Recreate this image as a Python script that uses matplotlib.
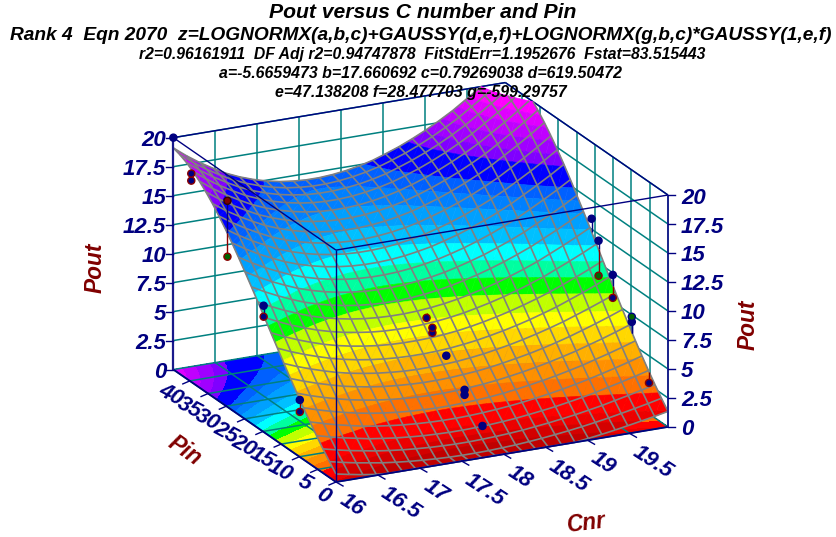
import matplotlib
matplotlib.use("Agg")
import matplotlib.pyplot as plt
import numpy as np
from matplotlib.lines import Line2D
from matplotlib.transforms import IdentityTransform
from mpl_toolkits.mplot3d import proj3d
from mpl_toolkits.mplot3d.art3d import Line3DCollection, Poly3DCollection

W, H = 837, 537

# fitted surface, rows = Pin, columns = Cnr
cnr_grid = [16.00, 16.16, 16.32, 16.48, 16.63, 16.79, 16.95, 17.11, 17.27, 17.43, 17.58, 17.74, 17.90,
            18.06, 18.22, 18.38, 18.53, 18.69, 18.85, 19.01, 19.17, 19.33, 19.48, 19.64, 19.80, 19.96]
pin_grid = [0, 1.78, 3.56, 5.34, 7.12, 8.9, 10.68, 12.46, 14.24, 16.02, 17.8, 19.58, 21.36,
            23.14, 24.92, 26.7, 28.48, 30.26, 32.04, 33.82, 35.6, 37.38, 39.16, 40.94, 42.72, 44.5]
pout_grid = [
    [.69,.46,.25,.08,0,0,0,0,0,0,0,0,0,0,0,0,0,0,0,.15,.31,.49,.68,.89,1.10,1.34],
    [1.37,1.11,.88,.69,.51,.37,.25,.16,.09,.04,.02,.02,.04,.09,.15,.24,.34,.47,.61,.77,.95,1.14,1.35,1.58,1.82,2.08],
    [2.08,1.80,1.55,1.34,1.15,.99,.86,.76,.68,.63,.60,.60,.63,.68,.75,.84,.96,1.09,1.25,1.42,1.62,1.83,2.07,2.32,2.59,2.87],
    [2.84,2.53,2.26,2.03,1.81,1.65,1.50,1.39,1.30,1.25,1.22,1.22,1.25,1.30,1.38,1.48,1.61,1.76,1.92,2.12,2.33,2.57,2.83,3.10,3.39,3.70],
    [3.63,3.30,3.00,2.74,2.51,2.32,2.17,2.04,1.95,1.89,1.86,1.86,1.89,1.95,2.04,2.15,2.28,2.45,2.63,2.84,3.08,3.34,3.61,3.91,4.23,4.57],
    [4.46,4.10,3.78,3.49,3.25,3.04,2.87,2.74,2.64,2.58,2.54,2.54,2.58,2.64,2.73,2.85,3.00,3.18,3.38,3.61,3.87,4.14,4.45,4.77,5.12,5.49],
    [5.33,4.93,4.58,4.27,4.01,3.79,3.60,3.46,3.35,3.28,3.24,3.24,3.28,3.35,3.45,3.58,3.74,3.93,4.15,4.40,4.68,4.98,5.31,5.66,6.04,6.44],
    [6.21,5.79,5.41,5.08,4.79,4.55,4.35,4.19,4.08,4.00,3.96,3.96,4.00,4.08,4.18,4.32,4.50,4.71,4.94,5.21,5.51,5.84,6.19,6.57,6.98,7.41],
    [7.12,6.66,6.26,5.90,5.59,5.33,5.12,4.95,4.83,4.74,4.70,4.71,4.75,4.82,4.94,5.09,5.28,5.50,5.76,6.05,6.37,6.72,7.10,7.51,7.95,8.41],
    [8.05,7.56,7.13,6.75,6.42,6.14,5.91,5.73,5.60,5.51,5.47,5.47,5.51,5.59,5.72,5.88,6.08,6.32,6.59,6.90,7.25,7.62,8.03,8.47,8.94,9.44],
    [8.99,8.47,8.00,7.59,7.24,6.94,6.70,6.51,6.36,6.27,6.23,6.23,6.27,6.36,6.49,6.67,6.88,7.14,7.43,7.76,8.13,8.53,8.96,9.43,9.93,10.46],
    [9.93,9.38,8.88,8.45,8.08,7.76,7.50,7.30,7.14,7.04,7.00,7.00,7.05,7.14,7.28,7.47,7.70,7.97,8.28,8.63,9.02,9.44,9.91,10.41,10.94,11.50],
    [10.87,10.28,9.76,9.30,8.90,8.57,8.29,8.07,7.91,7.81,7.76,7.76,7.81,7.91,8.06,8.26,8.50,8.78,9.11,9.49,9.90,10.35,10.84,11.37,11.93,12.53],
    [11.79,11.17,10.62,10.13,9.71,9.36,9.07,8.84,8.67,8.56,8.51,8.51,8.56,8.67,8.83,9.03,9.29,9.59,9.94,10.33,10.77,11.24,11.76,12.32,12.91,13.54],
    [12.70,12.05,11.47,10.96,10.52,10.15,9.84,9.60,9.42,9.30,9.25,9.25,9.30,9.42,9.58,9.80,10.07,10.39,10.75,11.17,11.62,12.12,12.67,13.25,13.88,14.54],
    [13.57,12.89,12.28,11.75,11.29,10.90,10.58,10.33,10.14,10.02,9.96,9.96,10.02,10.14,10.31,10.54,10.82,11.15,11.54,11.97,12.45,12.97,13.54,14.16,14.81,15.51],
    [14.42,13.71,13.07,12.52,12.04,11.63,11.30,11.03,10.84,10.71,10.65,10.65,10.71,10.83,11.02,11.25,11.55,11.89,12.29,12.74,13.24,13.79,14.39,15.03,15.71,16.44],
    [15.22,14.48,13.82,13.24,12.74,12.32,11.97,11.70,11.50,11.36,11.30,11.30,11.36,11.49,11.68,11.93,12.23,12.59,13.01,13.48,14.00,14.57,15.18,15.85,16.56,17.31],
    [15.96,15.19,14.51,13.91,13.39,12.95,12.60,12.31,12.10,11.97,11.90,11.90,11.97,12.10,12.29,12.55,12.87,13.24,13.67,14.15,14.69,15.28,15.92,16.61,17.35,18.13],
    [16.65,15.85,15.15,14.53,14.00,13.55,13.18,12.89,12.67,12.53,12.46,12.46,12.53,12.66,12.87,13.13,13.46,13.84,14.29,14.79,15.34,15.95,16.61,17.32,18.08,18.88],
    [17.26,16.45,15.72,15.09,14.54,14.08,13.70,13.40,13.18,13.03,12.96,12.96,13.03,13.17,13.38,13.65,13.98,14.38,14.84,15.35,15.92,16.54,17.22,17.95,18.73,19.56],
    [17.80,16.97,16.23,15.58,15.02,14.54,14.15,13.85,13.62,13.47,13.40,13.40,13.47,13.62,13.83,14.11,14.45,14.85,15.32,15.85,16.43,17.07,17.76,18.51,19.31,20.15],
    [18.26,17.41,16.65,15.99,15.42,14.94,14.54,14.23,14.00,13.84,13.77,13.77,13.84,13.99,14.21,14.49,14.84,15.25,15.73,16.26,16.86,17.51,18.22,18.98,19.79,20.65],
    [18.64,17.77,17.01,16.34,15.76,15.26,14.86,14.54,14.31,14.15,14.08,14.08,14.16,14.30,14.52,14.81,15.17,15.59,16.07,16.61,17.22,17.88,18.60,19.37,20.20,21.07],
    [18.92,18.05,17.27,16.59,16.00,15.51,15.10,14.78,14.54,14.39,14.31,14.31,14.39,14.54,14.76,15.05,15.41,15.83,16.32,16.87,17.48,18.15,18.88,19.66,20.50,21.38],
    [19.11,18.23,17.45,16.76,16.17,15.67,15.26,14.93,14.69,14.54,14.46,14.46,14.54,14.69,14.91,15.20,15.57,15.99,16.49,17.04,17.66,18.33,19.06,19.85,20.69,21.59],
]

# measured points
point_cnr = [16, 16, 16, 16, 16, 16, 16, 16, 16, 18, 18, 18, 18, 18, 18, 18, 19.96, 19.96, 19.96, 19.96, 19.96, 19.96, 19.96, 19.96]
point_pin = [44.5, 39.6, 39.6, 29.7, 29.7, 19.8, 19.8, 9.9, 9.9, 21.1, 19.5, 19.5, 15.7, 10.7, 10.7, 5.8, 20.9, 19, 19, 15.1, 15.1, 9.9, 9.9, 5.2]
point_pout = [20, 17.97, 17.36, 17.78, 12.96, 10.89, 9.94, 4.92, 3.89, 7.16, 6.65, 6.22, 5.07, 3.22, 2.78, 1.17, 13.4, 11.92, 8.9, 9.82, 7.84, 7.34, 6.9, 2.66]
point_fit = [20, 18.3, 18.3, 14.97, 14.97, 9.8, 9.8, 4.8, 4.8, 7.6, 6.97, 6.97, 5.0, 3.2, 3.2, 1.2, 12.26, 11.17, 11.17, 8.9, 8.9, 5.92, 5.92, 3.63]
point_face = ["#000080", "#000080", "#000080", "#7a0000", "#006400", "#000080", "#000080", "#000080", "#000080", "#000080",
              "#000080", "#000080", "#000080", "#000080", "#000080", "#000080", "#000080", "#000080", "#006400", "#000080", "#000080",
              "#006400", "#000080", "#000080"]
point_edge = ["#000080", "#8b0000", "#8b0000", "#300000", "#8b0000", "#000080", "#8b0000", "#000080", "#8b0000", "#8b0000",
              "#8b0000", "#8b0000", "#000080", "#000080", "#000080", "#000080", "#000080", "#000080", "#8b0000", "#000080", "#8b0000",
              "#000080", "#000080", "#8b0000"]

cnr_ticks = [16, 16.5, 17, 17.5, 18, 18.5, 19, 19.5]
cnr_labels = ["16", "16.5", "17", "17.5", "18", "18.5", "19", "19.5"]
pin_ticks = [0, 5, 10, 15, 20, 25, 30, 35, 40]
pin_labels = ["0", "5", "10", "15", "20", "25", "30", "35", "40"]
pout_ticks = [0, 2.5, 5, 7.5, 10, 12.5, 15, 17.5, 20]
pout_labels = ["0", "2.5", "5", "7.5", "10", "12.5", "15", "17.5", "20"]

band_levels = [-.01, .4, .9, 1.4, 2.4, 3.4, 4.4, 5.4, 6.4, 7.3, 8.4, 9.4, 10.4, 11.4, 12.4, 13.4, 14.2, 15, 16.3, 17, 17.8, 18.6, 19.3, 20.01]
band_colors = ["#c00000", "#d40000", "#ec0000", "#ff0000", "#ff7000", "#ff9000", "#ffb000", "#ffd800", "#ffff00", "#c0ff00",
               "#00ff00", "#00ffa0", "#00ffff", "#00c0ff", "#00a0ff", "#0080ff", "#0060ff", "#0000ff", "#8000ff", "#a000ff",
               "#c000ff", "#e000ff", "#ff00ff"]

NAVY = "#000080"
TEAL = "#008080"
MAROON = "#800000"
plt.rcParams["font.family"] = "Liberation Sans"

xmin, xmax = 16, 19.96
ymin, ymax = 0, 44.5
zmin, zmax = 0, 20

fig = plt.figure(figsize=(W / 100, H / 100), dpi=100)
ax = fig.add_axes([0, 0, 1, 1], projection="3d", proj_type="ortho", computed_zorder=False)
ax.view_init(elev=19.8, azim=243.9)
ax.set_xlim(xmin, xmax, view_margin=0)
ax.set_ylim(ymin, ymax, view_margin=0)
ax.set_zlim(zmin, zmax, view_margin=0)
ax.set_box_aspect((1.5, 1.5, 1))
ax.set_axis_off()
ax.patch.set_alpha(0)


def to_px(x, y, z):
    xd, yd, _ = proj3d.proj_transform(x, y, z, ax.get_proj())
    return ax.transData.transform((xd, yd))


# fit the box on the pixels of the reference
ax.apply_aspect()
a = to_px(xmin, ymin, zmin)
b = to_px(xmax, ymin, zmin)
scale = np.hypot(332, 55) / np.hypot(*(b - a))
ax.set_box_aspect((1.5, 1.5, 1), zoom=scale)
ax.apply_aspect()
a = to_px(xmin, ymin, zmin)
ax.set_position([(336 - a[0]) / W, (H - 482 - a[1]) / H, 1, 1])
ax.apply_aspect()

X, Y = np.meshgrid(cnr_grid, pin_grid)
Z = np.array(pout_grid)

floor = ax.contourf(X, Y, Z, levels=band_levels, colors=band_colors, zdir="z", offset=0)
floor.set_zorder(1)


def line3d(xs, ys, zs, color=TEAL, lw=1.1, zorder=2):
    ax.plot(xs, ys, zs, color=color, lw=lw, zorder=zorder, solid_capstyle="butt")


# grids on floor and back walls
for c in cnr_ticks:
    line3d([c, c], [ymin, ymax], [0, 0])
    line3d([c, c], [ymax, ymax], [zmin, zmax])
for p in pin_ticks:
    line3d([xmin, xmax], [p, p], [0, 0])
    line3d([xmax, xmax], [p, p], [zmin, zmax])
for t in pout_ticks:
    line3d([xmin, xmax], [ymax, ymax], [t, t])
    line3d([xmax, xmax], [ymin, ymax], [t, t])
line3d([xmin, xmax], [ymax, ymax], [zmax, zmax], NAVY, 1.0, 3)
line3d([xmax, xmax], [ymin, ymax], [zmax, zmax], NAVY, 1.0, 3)


def cut(poly, level, above):
    # keep the part of a flat facet on one side of a Pout level
    out = []
    for k, p in enumerate(poly):
        q = poly[(k + 1) % len(poly)]
        pin_side = p[2] >= level if above else p[2] <= level
        qin_side = q[2] >= level if above else q[2] <= level
        if pin_side:
            out.append(p)
        if pin_side != qin_side:
            t = (level - p[2]) / (q[2] - p[2])
            out.append((p[0] + t * (q[0] - p[0]), p[1] + t * (q[1] - p[1]), level))
    return out


# surface facets, painted band by band like the contour map on the floor
verts, faces = [], []
for j in range(len(pin_grid) - 1):
    for i in range(len(cnr_grid) - 1):
        c = [(X[j, i], Y[j, i], Z[j, i]), (X[j, i + 1], Y[j, i + 1], Z[j, i + 1]),
             (X[j + 1, i + 1], Y[j + 1, i + 1], Z[j + 1, i + 1]), (X[j + 1, i], Y[j + 1, i], Z[j + 1, i])]
        for tri in ([c[0], c[1], c[2]], [c[0], c[2], c[3]]):
            for k, col in enumerate(band_colors):
                part = cut(tri, band_levels[k], True)
                if len(part) >= 3:
                    part = cut(part, band_levels[k + 1], False)
                if len(part) >= 3:
                    verts.append(part)
                    faces.append(col)
surf = Poly3DCollection(verts, facecolors=faces, edgecolors=faces, linewidths=0.4, zorder=5)
ax.add_collection3d(surf)

# mesh over the surface, stops at the top of the box
segs = []
for j in range(len(pin_grid)):
    for i in range(len(cnr_grid) - 1):
        segs.append(((X[j, i], Y[j, i], Z[j, i]), (X[j, i + 1], Y[j, i + 1], Z[j, i + 1])))
for i in range(len(cnr_grid)):
    for j in range(len(pin_grid) - 1):
        segs.append(((X[j, i], Y[j, i], Z[j, i]), (X[j + 1, i], Y[j + 1, i], Z[j + 1, i])))
mesh = []
for p, q in segs:
    if p[2] > zmax and q[2] > zmax:
        continue
    if p[2] > zmax or q[2] > zmax:
        t = (zmax - p[2]) / (q[2] - p[2])
        m = (p[0] + t * (q[0] - p[0]), p[1] + t * (q[1] - p[1]), zmax)
        p, q = (m, q) if p[2] > zmax else (p, m)
    mesh.append((p, q))
ax.add_collection3d(Line3DCollection(mesh, colors="#808080", linewidths=1.2, zorder=5.5))

# front edges of the box
line3d([xmin, xmax], [ymin, ymin], [zmax, zmax], NAVY, 1.0, 6)
line3d([xmin, xmin], [ymin, ymax], [zmax, zmax], NAVY, 1.0, 6)
line3d([xmin, xmin], [ymin, ymin], [zmin, zmax], NAVY, 1.0, 6)
line3d([xmin, xmax], [ymin, ymin], [0, 0], NAVY, 1.3, 6)
line3d([xmin, xmin], [ymin, ymax], [0, 0], NAVY, 1.3, 6)
line3d([xmin, xmin], [ymax, ymax], [zmin, zmax], "#1a1a8c", 1.6, 6)
line3d([xmax, xmax], [ymin, ymin], [zmin, zmax], "#1a1a8c", 1.3, 6)

# stems and points
for cx, py, pz, fz in zip(point_cnr, point_pin, point_pout, point_fit):
    line3d([cx, cx], [py, py], [pz, fz], "#8b0000" if pz < fz else NAVY, 1.0, 7)
ax.scatter(point_cnr, point_pin, point_pout, s=26, c=point_face, edgecolors=point_edge, linewidths=1.0,
           depthshade=False, zorder=8)


def px_text(x, y, s, **kw):
    fig.text(x / W, 1 - y / H, s, **kw)


def tick(x0, y0, dx, dy):
    fig.add_artist(Line2D([x0, x0 + dx], [y0, y0 - dy], transform=IdentityTransform(), color=NAVY, lw=1.0))


tick_font = dict(color=NAVY, fontsize=16, fontweight="bold", fontstyle="italic")
for c, lab in zip(cnr_ticks, cnr_labels):
    px, py = to_px(c, ymin, 0)
    tick(px, py, 7, 4)
    off = 7 if len(lab) > 2 else 0
    px_text(px + 16 + off, H - py + 23 + off * .8, lab, ha="center", va="center", rotation=-33, rotation_mode="anchor", **tick_font)
for p, lab in zip(pin_ticks, pin_labels):
    px, py = to_px(xmin, p, 0)
    tick(px, py, -7, 3)
    off = 0 if len(lab) > 1 else 6
    px_text(px - 19 + off, H - py + 14, lab, ha="center", va="center", rotation=-28, rotation_mode="anchor", **tick_font)
for t, lab in zip(pout_ticks, pout_labels):
    px, py = to_px(xmin, ymax, t)
    tick(px, py, -7, 0)
    px_text(166, H - py + 3, lab, ha="right", va="center", **tick_font)
    px, py = to_px(xmax, ymin, t)
    tick(px, py, 7, 0)
    px_text(681, H - py + 3, lab, ha="left", va="center", **tick_font)

# axis titles
label_font = dict(color=MAROON, fontsize=16.3, fontweight="bold", fontstyle="italic", ha="center", va="center")
px_text(95, 268, "Pout", rotation=90, **label_font)
px_text(748, 325, "Pout", rotation=90, **label_font)
px_text(185, 451, "Pin", rotation=-35, **label_font)
px_text(586, 523, "Cnr", rotation=7, **label_font)

# title block
head = dict(color="black", fontweight="bold", fontstyle="italic", ha="center", va="center")
px_text(423, 12, "Pout versus C number and Pin", fontsize=15.2, **head)
px_text(421, 36, "Rank 4  Eqn 2070  z=LOGNORMX(a,b,c)+GAUSSY(d,e,f)+LOGNORMX(g,b,c)*GAUSSY(1,e,f)", fontsize=13.8, **head)
px_text(422, 55, "r2=0.96161911  DF Adj r2=0.94747878  FitStdErr=1.1952676  Fstat=83.515443", fontsize=11.35, **head)
px_text(421, 73, "a=-5.6659473 b=17.660692 c=0.79269038 d=619.50472", fontsize=11.4, **head)
px_text(421, 92, "e=47.138208 f=28.477703 g=-599.29757", fontsize=11.4, **head)

fig.savefig("out.png", dpi=100)
